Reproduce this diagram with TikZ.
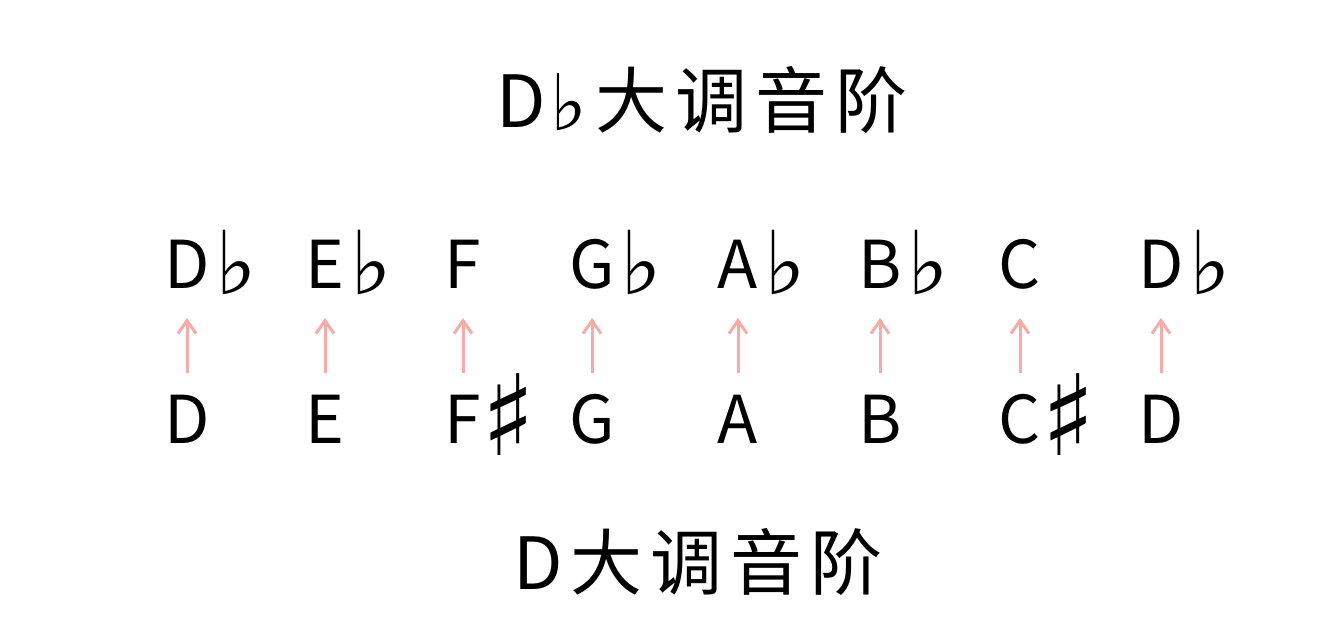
\documentclass[tikz,border=0pt]{standalone}
\usepackage{fontspec}
\setmainfont{Noto Sans CJK SC}
\newfontfamily\symfont{DejaVu Sans}
\usetikzlibrary{arrows.meta}
\definecolor{arrowpink}{RGB}{248,170,166}
\newcommand{\bigflat}[1]{{\symfont\fontsize{#1}{#1}\selectfont ♭}}
\newcommand{\bigsharp}[1]{{\symfont\fontsize{#1}{#1}\selectfont ♯}}
\newcommand{\flt}{\rlap{\hspace{6pt}\raisebox{-6pt}{\bigflat{88}}}}
\newcommand{\shp}{\rlap{\hspace{0pt}\raisebox{-12pt}{\bigsharp{112}}}}
\newcommand{\cjkgap}{\hspace{8pt}}
\begin{document}
\begin{tikzpicture}[x=1pt,y=-1pt,
  note/.style={inner sep=0pt, font=\fontsize{66}{72}\selectfont, text height=47pt, text depth=0pt, anchor=south},
  ttl/.style={inner sep=0pt, font=\fontsize{72}{80}\selectfont},
  up/.style={draw=arrowpink, line width=3pt, -{Straight Barb[length=13pt,width=18pt]}, shorten <=24pt, shorten >=29pt}]
\useasboundingbox (0,0) rectangle (1342,634);
\node[ttl] (title1) at (702,100) {D\hspace{4pt}\raisebox{-3pt}{\bigflat{78}}\cjkgap 大\cjkgap 调\cjkgap 音\cjkgap 阶};
\node[ttl] (title2) at (698,562) {D\cjkgap 大\cjkgap 调\cjkgap 音\cjkgap 阶};
% top row
\node[note] (t1) at (187,289) {D\flt};
\node[note] (t2) at (325,289) {E\flt};
\node[note] (t3) at (463,289) {F};
\node[note] (t4) at (592,289) {G\flt};
\node[note] (t5) at (738,289) {A\flt};
\node[note] (t6) at (880,289) {B\flt};
\node[note] (t7) at (1020,289) {C};
\node[note] (t8) at (1161,289) {D\flt};
% bottom row
\node[note] (b1) at (187,444) {D};
\node[note] (b2) at (325,444) {E};
\node[note] (b3) at (463,444) {F\shp};
\node[note] (b4) at (592,444) {G};
\node[note] (b5) at (738,444) {A};
\node[note] (b6) at (880,444) {B};
\node[note] (b7) at (1020,444) {C\shp};
\node[note] (b8) at (1161,444) {D};
\foreach \i in {1,...,8} \draw[up] (b\i.north) -- (t\i.south);
\end{tikzpicture}
\end{document}
